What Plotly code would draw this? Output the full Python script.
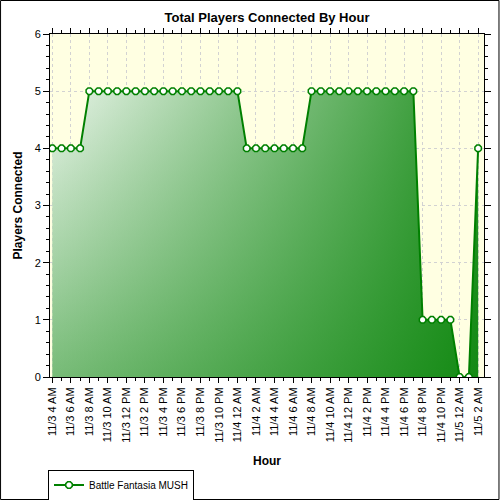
import pandas as pd
import plotly.graph_objects as go

# hourly samples, 11/3 4 AM .. 11/5 2 AM
hours = pd.date_range("2009-11-03 04:00", periods=47, freq="h")
players = [4, 4, 4, 4,
           5, 5, 5, 5, 5, 5, 5, 5, 5, 5, 5, 5, 5, 5, 5, 5, 5,
           4, 4, 4, 4, 4, 4, 4,
           5, 5, 5, 5, 5, 5, 5, 5, 5, 5, 5, 5,
           1, 1, 1, 1,
           0, 0,
           4]
series_name = "Battle Fantasia MUSH"

FONT = "Arial, Liberation Sans, sans-serif"
GREEN = "rgb(0,128,0)"

x_start = hours[0] - pd.Timedelta(minutes=15)
x_end = hours[-1] + pd.Timedelta(minutes=38)
# date axes work in ms since epoch internally
ms_start = x_start.value / 1e6
ms_end = x_end.value / 1e6

fig = go.Figure()

# base fill: vertical gradient (light at top, mid green at bottom)
fig.add_trace(go.Scatter(
    x=hours, y=players, mode="none", fill="tozeroy", showlegend=False,
    hoverinfo="skip",
    fillgradient=dict(type="vertical", start=0, stop=6,
                      colorscale=[[0, "rgb(120,188,120)"], [1, "rgb(255,255,255)"]]),
))
# overlay fill: horizontal green wash, transparent on the left
fig.add_trace(go.Scatter(
    x=hours, y=players, mode="none", fill="tozeroy", showlegend=False,
    hoverinfo="skip",
    fillgradient=dict(type="horizontal", start=ms_start, stop=ms_end,
                      colorscale=[[0, "rgba(0,128,0,0)"], [1, "rgba(0,128,0,0.85)"]]),
))
# the series itself
fig.add_trace(go.Scatter(
    x=hours, y=players, mode="lines+markers", name=series_name,
    line=dict(color=GREEN, width=2),
    marker=dict(symbol="octagon", size=7, color="white",
                line=dict(color=GREEN, width=1.5)),
))

pw = 500 - 50 - 15.5
ph = 377 - 34

fig.update_layout(
    width=500, height=500,
    # fixed margins: the legend sits in the bottom margin and must not push it
    margin=dict(l=50, r=15.5, t=34, b=123, pad=0, autoexpand=False),
    paper_bgcolor="white",
    plot_bgcolor="rgb(255,255,226)",
    font=dict(family=FONT, size=11, color="black"),
    title=dict(text="<b>Total Players Connected By Hour</b>", x=0.5, xref="paper",
               y=1 - 17 / 500, yanchor="middle", font=dict(size=13)),
    showlegend=True,
    legend=dict(x=-2 / pw, xanchor="left", y=(377 - 485) / ph, yanchor="middle",
                bordercolor="black", borderwidth=1, font=dict(size=10),
                itemwidth=30, tracegroupgap=0),
    shapes=[dict(type="rect", xref="paper", yref="paper",
                 x0=-49.5 / pw, x1=449.5 / pw, y0=(377 - 499.5) / ph, y1=376.5 / ph,
                 line=dict(color="black", width=1), fillcolor="rgba(0,0,0,0)")],
)

fig.update_xaxes(
    type="date", range=[x_start, x_end], automargin=False,
    tick0=hours[0], dtick=2 * 3600 * 1000, tickformat="%-m/%-d %-I %p",
    tickangle=-90, tickfont=dict(size=11),
    showline=True, linecolor="black", linewidth=1, mirror="allticks",
    ticks="outside", ticklen=5, tickcolor="black",
    minor=dict(dtick=3600 * 1000, ticks="outside", ticklen=3, tickcolor="black", showgrid=False),
    showgrid=True, gridcolor="rgb(210,210,210)", griddash="dot", gridwidth=1,
    zeroline=False,
    title=dict(text="<b>Hour</b>", font=dict(size=12), standoff=14),
)
fig.update_yaxes(
    range=[0, 6], dtick=1, tickfont=dict(size=11), automargin=False,
    showline=True, linecolor="black", linewidth=1, mirror="allticks",
    ticks="outside", ticklen=6, tickcolor="black",
    minor=dict(dtick=0.2, ticks="outside", ticklen=3, tickcolor="black", showgrid=False),
    showgrid=True, gridcolor="rgb(210,210,210)", griddash="dot", gridwidth=1,
    zeroline=False,
    title=dict(text="<b>Players Connected</b>", font=dict(size=12), standoff=9),
)

# drop the browser's default body margin so the 500x500 figure fills the window
fig.write_html("out.html", config={"displayModeBar": False},
               post_script="document.body.style.margin='0';")
